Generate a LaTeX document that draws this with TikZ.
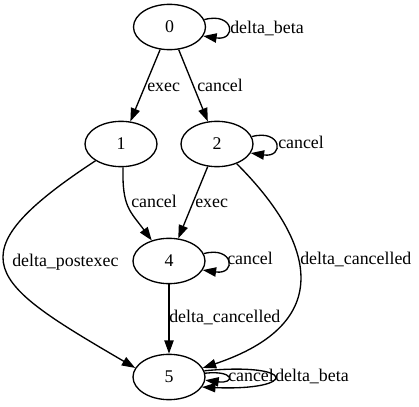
\documentclass[tikz,border=0pt]{standalone}
\usepackage{fontspec}
\setmainfont{Liberation Serif}
\usetikzlibrary{arrows.meta,shapes.geometric}
\begin{document}
\begin{tikzpicture}[x=0.75pt,y=-0.75pt,
  every node/.style={font=\fontsize{13.4}{16}\selectfont},
  state/.style={draw, ellipse, minimum width=54pt, minimum height=34pt, inner sep=0pt, line width=1pt},
  lbl/.style={anchor=base west, inner sep=0pt},
  arr/.style={draw, line width=1pt, -{Triangle[length=10pt,width=7pt]}}]
\useasboundingbox (0,0) rectangle (419,407);
\node[state] (n0) at (169.5,27) {0};
\node[state] (n1) at (121,144) {1};
\node[state] (n2) at (217,144) {2};
\node[state] (n4) at (169,261) {4};
\node[state] (n5) at (169,377) {5};
% edges
\draw[arr] (n0) -- (n1);
\draw[arr] (n0) -- (n2);
\draw[arr] (n0.12) .. controls +(30,-8) and +(34,5) .. (n0.-15);
\draw[arr] (n2.12) .. controls +(30,-8) and +(34,5) .. (n2.-15);
\draw[arr] (n4.12) .. controls +(30,-8) and +(34,5) .. (n4.-15);
\draw[arr] (n1.-85) .. controls (122,207) and (130,211) .. (n4.130);
\draw[arr] (n2) -- (n4);
\draw[arr] (n4) -- (n5);
\draw[arr] (n1) .. controls (-51,257) and (-10,283) .. (n5.165);
\draw[arr] (n2.-45) .. controls (315,242) and (337,323) .. (n5.15);
\draw[arr] (n5.6) .. controls (235,370) and (235,384) .. (n5.-5);
\draw[arr] (n5.10) .. controls (298,362) and (298,391) .. (n5.-17);
% labels
\node[lbl] (l01) at (147,92) {exec};
\node[lbl] (l02) at (197,92) {cancel};
\node[lbl] (l00) at (230,33) {delta\_beta};
\node[lbl] (l22) at (278,148) {cancel};
\node[lbl] (l14) at (131,207) {cancel};
\node[lbl] (l24) at (195,207) {exec};
\node[lbl] (l15) at (12,267) {delta\_postexec};
\node[lbl] (l44) at (227,265) {cancel};
\node[lbl] (l45) at (169,322) {delta\_cancelled};
\node[lbl] (l25) at (300,265) {delta\_cancelled};
\node[lbl] (l55a) at (228,382) {cancel};
\node[lbl] (l55b) at (275,382) {delta\_beta};
\end{tikzpicture}
\end{document}
